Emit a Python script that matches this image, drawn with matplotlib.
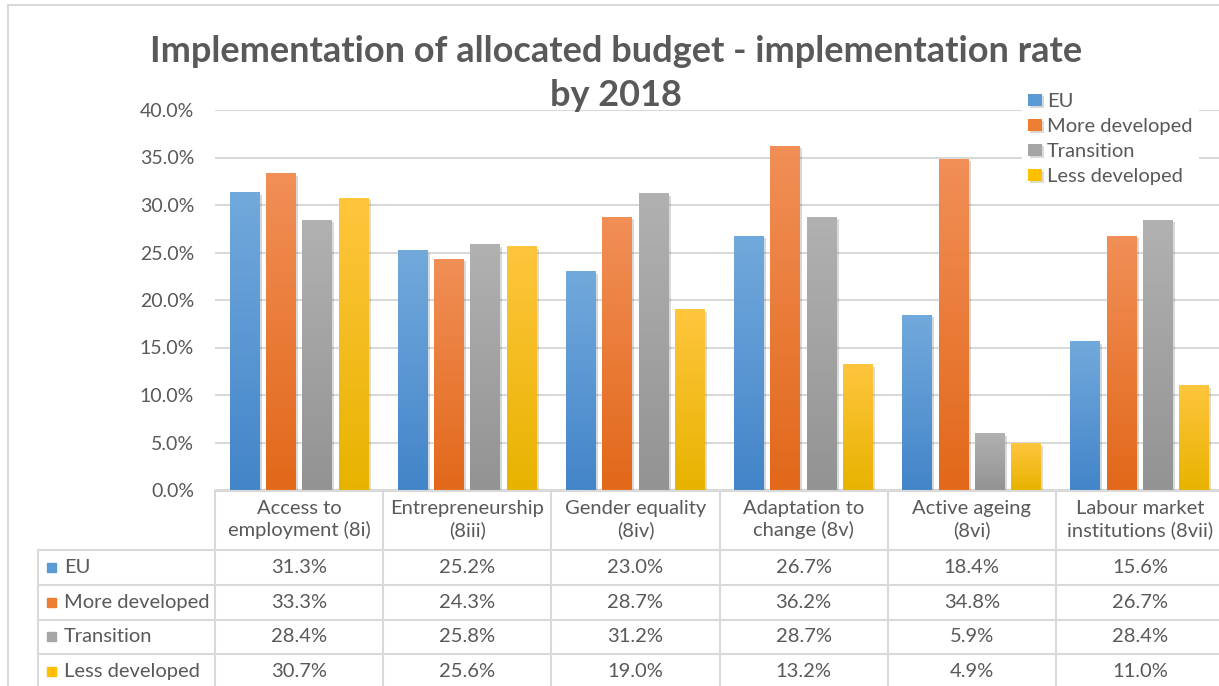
import numpy as np
import matplotlib.pyplot as plt
import matplotlib.patheffects as pe
from matplotlib.colors import LinearSegmentedColormap
from matplotlib.patches import Rectangle
from matplotlib.lines import Line2D

plt.rcParams['font.family'] = ['Lato', 'DejaVu Sans']

# data
categories = ['Access to\nemployment (8i)', 'Entrepreneurship\n(8iii)', 'Gender equality\n(8iv)',
              'Adaptation to\nchange (8v)', 'Active ageing\n(8vi)', 'Labour market\ninstitutions (8vii)']
series = ['EU', 'More developed', 'Transition', 'Less developed']
eu = [31.3, 25.2, 23.0, 26.7, 18.4, 15.6]
more_dev = [33.3, 24.3, 28.7, 36.2, 34.8, 26.7]
transition = [28.4, 25.8, 31.2, 28.7, 5.9, 28.4]
less_dev = [30.7, 25.6, 19.0, 13.2, 4.9, 11.0]
values = [eu, more_dev, transition, less_dev]

# colours (base, top of gradient, bottom of gradient)
base = ['#5b9bd5', '#ed7d31', '#a5a5a5', '#ffc000']
tops = ['#72a9dc', '#f18f57', '#b1b1b1', '#ffc53d']
bottoms = ['#4385c9', '#e2681a', '#939393', '#e8b300']
txt = '#595959'
line_c = '#d9d9d9'
fs = 14.5

W, H = 1219, 686
def fx(px):
    return px / W
def fy(py):
    return 1 - py / H

fig = plt.figure(figsize=(W / 100, H / 100), dpi=100)

# chart border (only left / top visible)
fig.add_artist(Line2D([fx(8), fx(8)], [fy(5), fy(690)], color=line_c, lw=1.5))
fig.add_artist(Line2D([fx(8), fx(1225)], [fy(5), fy(5)], color=line_c, lw=1.5))

# main axes
x_left, x_right = 215, 1224
ax = fig.add_axes([fx(x_left), fy(490), (x_right - x_left) / W, (490 - 110) / H])
x = np.arange(len(categories))
width = 0.178
step = 0.216

for k, (s, vals) in enumerate(zip(series, values)):
    cmap = LinearSegmentedColormap.from_list(s, [bottoms[k], tops[k]])
    bars = ax.bar(x + (k - 1.5) * step, vals, width, color=base[k], zorder=2, label=s)
    for b in bars:
        b.set_path_effects([pe.SimplePatchShadow(offset=(1.5, -1.5), alpha=0.18), pe.Normal()])
        x0, w, h = b.get_x(), b.get_width(), b.get_height()
        grad = np.linspace(0, 1, 100).reshape(-1, 1)
        ax.imshow(grad, extent=(x0, x0 + w, 0, h), origin='lower', cmap=cmap,
                  aspect='auto', zorder=3)

ax.set_xlim(-0.5, len(categories) - 0.5)
ax.set_ylim(0, 40)
ax.set_yticks(np.arange(0, 41, 5))
ax.set_yticklabels([f'{v:.1f}%' for v in np.arange(0, 41, 5)])
ax.set_xticks([])
ax.tick_params(axis='y', length=0, pad=15, labelsize=14, labelcolor=txt)
ax.grid(axis='y', color=line_c, lw=1.5, zorder=0)
ax.set_axisbelow(True)
for sp in ax.spines.values():
    sp.set_visible(False)

leg = ax.legend(loc='upper left', bbox_to_anchor=(fx(1022), fy(87)), bbox_transform=fig.transFigure,
                fontsize=fs, frameon=True, facecolor='white', edgecolor='none', framealpha=1,
                handlelength=0.7, handleheight=0.55, handletextpad=0.25, labelspacing=0.4,
                borderpad=0.3, borderaxespad=0, fancybox=False)
for t in leg.get_texts():
    t.set_color(txt)
leg.set_zorder(10)

# title (two lines)
fig.text(fx(616), fy(51), 'Implementation of allocated budget - implementation rate',
         ha='center', va='center', fontsize=26, fontweight='bold', color=txt)
fig.text(fx(616), fy(96), 'by 2018',
         ha='center', va='center', fontsize=26, fontweight='bold', color=txt)

# data table
tbl_top, tbl_bot = 491, 689
tax = fig.add_axes([fx(x_left), fy(tbl_bot), (x_right - x_left) / W, (tbl_bot - tbl_top) / H])
tax.set_xlim(-0.5, len(categories) - 0.5)
tax.set_ylim(tbl_bot - tbl_top, 0)
tax.axis('off')

cw = (x_right - x_left) / len(categories)
def px2x(px):
    return -0.5 + (px - x_left) / cw

row_y = [0, 59, 94, 128.5, 163, 198]
lx = px2x(38)
tax.plot([-0.5, 5.5], [0, 0], color=line_c, lw=1.5, clip_on=False)
for y in row_y[1:]:
    tax.plot([lx, 5.5], [y, y], color=line_c, lw=1.5, clip_on=False)
for i in range(len(categories) + 1):
    tax.plot([i - 0.5, i - 0.5], [0, row_y[-1]], color=line_c, lw=1.5, clip_on=False)
tax.plot([lx, lx], [row_y[1], row_y[-1]], color=line_c, lw=1.5, clip_on=False)

for i, c in enumerate(categories):
    tax.text(i, row_y[1] / 2 - 1, c, ha='center', va='center', fontsize=fs, color=txt,
             linespacing=1.3, clip_on=False)

for k, (s, vals) in enumerate(zip(series, values)):
    yc = (row_y[k + 1] + row_y[k + 2]) / 2
    tax.add_patch(Rectangle((px2x(47), yc - 4.5), 9 / cw, 9, color=base[k], clip_on=False))
    tax.text(px2x(64), yc, s, ha='left', va='center', fontsize=fs, color=txt, clip_on=False)
    for i, v in enumerate(vals):
        tax.text(i, yc, f'{v:.1f}%', ha='center', va='center', fontsize=fs, color=txt, clip_on=False)

fig.savefig('out.png', dpi=100)
